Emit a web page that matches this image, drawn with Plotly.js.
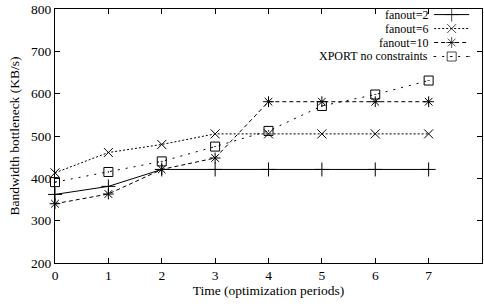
<!DOCTYPE html>
<html>
<head>
<meta charset="utf-8">
<script src="https://cdn.plot.ly/plotly-3.0.1.min.js"></script>
<style>html,body{margin:0;padding:0;background:#fff;}#chart{width:484px;height:304px;}</style>
</head>
<body>
<div id="chart"></div>
<script>
var periods = [0, 1, 2, 3, 4, 5, 6, 7];
var fanout2 = [362, 381, 421, 421, 421, 421, 421, 421];
var fanout6 = [413, 461, 480, 505, 505, 505, 505, 505];
var fanout10 = [340, 363, 421, 448, 581, 581, 581, 581];
var xport = [391, 415, 440, 475, 512, 571, 598, 631];
var seriesNames = ['fanout=2', 'fanout=6', 'fanout=10', 'XPORT no constraints'];

var FONT = "'Liberation Serif', 'Times New Roman', Times, 'DejaVu Serif', serif";

var styles = [
  {dash: 'solid', symbol: 'cross-thin-open', size: 10},
  {dash: '2px,2px', symbol: 'x-thin-open', size: 9},
  {dash: '4px,3px', symbol: 'asterisk-open', size: 9},
  {dash: '2px,6px', symbol: 'square-open-dot', size: 9}
];
var values = [fanout2, fanout6, fanout10, xport];

var traces = [];
values.forEach(function (v, i) {
  traces.push({
    x: periods, y: v, type: 'scatter', mode: 'lines+markers', name: seriesNames[i],
    showlegend: false, cliponaxis: false,
    line: {color: '#000', width: 1, dash: styles[i].dash},
    marker: {symbol: styles[i].symbol, size: styles[i].size, color: '#000', line: {color: '#000', width: 1}}
  });
});

// manual gnuplot-style legend (text right-aligned, sample on the right)
var legRowsY = [0.978, 0.923, 0.868, 0.813];
var legX0 = 0.888, legX1 = 0.970;
var annotations = [];
seriesNames.forEach(function (n, i) {
  traces.push({
    x: [legX0, (legX0 + legX1) / 2, legX1], y: [legRowsY[i], legRowsY[i], legRowsY[i]],
    xaxis: 'x2', yaxis: 'y2', type: 'scatter', mode: 'lines+markers', showlegend: false, hoverinfo: 'skip',
    line: {color: '#000', width: 1, dash: styles[i].dash},
    marker: {symbol: styles[i].symbol, size: [0, styles[i].size, 0], color: '#000', line: {color: '#000', width: 1}}
  });
  annotations.push({
    xref: 'paper', yref: 'paper', x: 0.879, y: legRowsY[i], xanchor: 'right', yanchor: 'middle',
    text: n, showarrow: false, font: {family: FONT, size: 12, color: '#000'}
  });
});

var axisCommon = {
  showgrid: false, zeroline: false, showline: true, linecolor: '#000', linewidth: 1,
  mirror: 'ticks', ticks: 'inside', ticklen: 5, tickcolor: '#000', tickwidth: 1,
  tickfont: {family: FONT, size: 13.5, color: '#000'}
};

var layout = {
  width: 484, height: 304,
  margin: {l: 55, r: 2, t: 9, b: 41},
  paper_bgcolor: '#fff', plot_bgcolor: '#fff',
  font: {family: FONT, size: 13.5, color: '#000'},
  showlegend: false,
  xaxis: Object.assign({}, axisCommon, {
    range: [0, 8], dtick: 1, tick0: 0, ticklabelstandoff: 0,
    title: {text: 'Time (optimization periods)', standoff: 2, font: {family: FONT, size: 13.5, color: '#000'}}
  }),
  yaxis: Object.assign({}, axisCommon, {
    range: [200, 800], dtick: 100, tick0: 200,
    title: {text: 'Bandwidth bottleneck (KB/s)', standoff: 8, font: {family: FONT, size: 13.5, color: '#000'}}
  }),
  xaxis2: {overlaying: 'x', range: [0, 1], visible: false, fixedrange: true},
  yaxis2: {overlaying: 'y', range: [0, 1], visible: false, fixedrange: true},
  annotations: annotations
};

Plotly.newPlot('chart', traces, layout, {displayModeBar: false, staticPlot: true});
</script>
</body>
</html>
